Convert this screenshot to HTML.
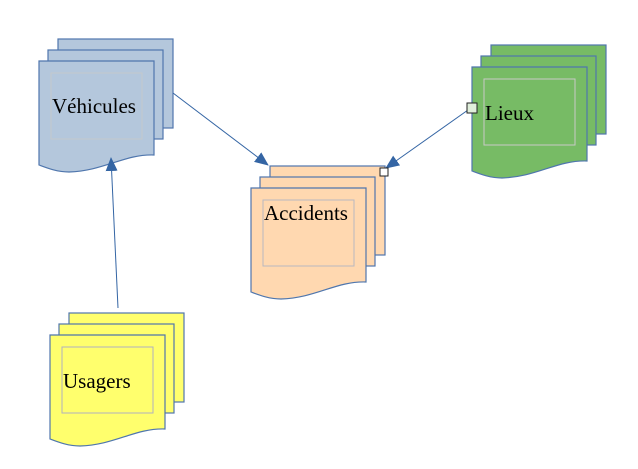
<!DOCTYPE html>
<html><head><meta charset="utf-8"><style>
html,body{margin:0;padding:0;background:#fff;width:638px;height:469px;overflow:hidden}
text{font-family:"Liberation Serif",serif;font-size:21px;fill:#000}
</style></head><body>
<svg width="638" height="469" viewBox="0 0 638 469" xmlns="http://www.w3.org/2000/svg">
<defs>
<marker id="ah" markerWidth="14" markerHeight="12" refX="13" refY="6" orient="auto" markerUnits="userSpaceOnUse">
<path d="M0,0 L14,6 L0,12 Z" fill="#3465a4"/>
</marker>
</defs>
<g transform="translate(39,61)" fill="#b4c7dc" stroke="#4f76ad" stroke-width="1.2">
<rect x="19" y="-22" width="115" height="89"/>
<rect x="9" y="-11" width="115" height="89"/>
<path d="M0,0 H115 V94 C85,93 65,110 30,111 C18,111 8,107 0,104 Z"/>
<rect x="12" y="12" width="91" height="66" fill="none" stroke="#c4c8cc" stroke-width="1"/>
</g>
<text x="52" y="113">Véhicules</text>
<g transform="translate(251,188)" fill="#ffd8b0" stroke="#4f76ad" stroke-width="1.2">
<rect x="19" y="-22" width="115" height="89"/>
<rect x="9" y="-11" width="115" height="89"/>
<path d="M0,0 H115 V94 C85,93 65,110 30,111 C18,111 8,107 0,104 Z"/>
<rect x="12" y="12" width="91" height="66" fill="none" stroke="#b8b8c0" stroke-width="1"/>
</g>
<text x="264" y="220">Accidents</text>
<g transform="translate(472,67)" fill="#77bb65" stroke="#4f76ad" stroke-width="1.2">
<rect x="19" y="-22" width="115" height="89"/>
<rect x="9" y="-11" width="115" height="89"/>
<path d="M0,0 H115 V94 C85,93 65,110 30,111 C18,111 8,107 0,104 Z"/>
<rect x="12" y="12" width="91" height="66" fill="none" stroke="#c8c8c8" stroke-width="1"/>
</g>
<text x="485" y="120">Lieux</text>
<g transform="translate(50,335)" fill="#ffff6d" stroke="#4f76ad" stroke-width="1.2">
<rect x="19" y="-22" width="115" height="89"/>
<rect x="9" y="-11" width="115" height="89"/>
<path d="M0,0 H115 V94 C85,93 65,110 30,111 C18,111 8,107 0,104 Z"/>
<rect x="12" y="12" width="91" height="66" fill="none" stroke="#b0b0c0" stroke-width="1"/>
</g>
<text x="63" y="388">Usagers</text>
<g stroke="#3465a4" stroke-width="1" fill="none">
<line x1="173" y1="93" x2="268" y2="165" marker-end="url(#ah)"/>
<line x1="468" y1="110" x2="386" y2="168" marker-end="url(#ah)"/>
<line x1="118" y1="308" x2="111" y2="158" marker-end="url(#ah)"/>
</g>
<rect x="467" y="103" width="10" height="10" fill="#e0efdb" stroke="#222" stroke-width="1"/>
<rect x="380" y="168" width="8" height="8" fill="#fff" stroke="#222" stroke-width="1"/>
</svg>
</body></html>
